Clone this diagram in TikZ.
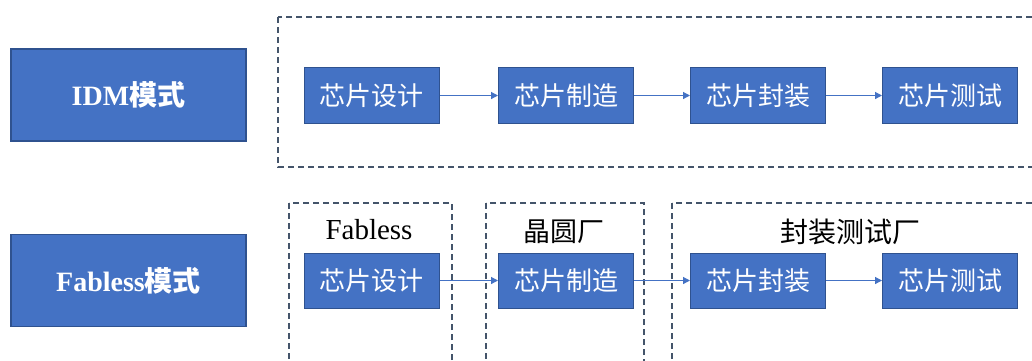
\documentclass[tikz,border=0pt]{standalone}
\usepackage{fontspec}
\setmainfont{Liberation Serif}
\newfontfamily\cjk{Noto Sans CJK SC}
\newfontfamily\cjkb{Noto Sans CJK SC Bold}
\usetikzlibrary{arrows.meta}
\definecolor{boxblue}{HTML}{4472C4}
\definecolor{boxedge}{HTML}{2F528F}
\definecolor{dashc}{HTML}{44546A}
\tikzset{
  stepbox/.style={draw=boxedge, line width=1pt, fill=boxblue, text=white, minimum width=135pt, minimum height=56pt, inner sep=0pt, font=\cjk\fontsize{26}{30}\selectfont},
  modebox/.style={draw=boxedge, line width=1.2pt, fill=boxblue, text=white, minimum width=235pt, minimum height=92pt, inner sep=0pt, font=\fontsize{28}{32}\selectfont\bfseries},
  dashbox/.style={draw=dashc, line width=1.4pt, dash pattern=on 6pt off 4pt},
  flow/.style={draw=boxblue, line width=1.2pt, -{Triangle[length=7pt,width=7pt]}},
  grp/.style={inner sep=0pt, text=black}
}
\begin{document}
\begin{tikzpicture}[x=1pt,y=-1pt]
\useasboundingbox (0,0) rectangle (1032,360);
\clip (0,0) rectangle (1032,360);
\fill[white] (0,0) rectangle (1032,360);
% dashed group frames
\draw[dashbox] (278,17) rectangle (1045,167);
\draw[dashbox] (289,203) rectangle (452,380);
\draw[dashbox] (486,203) rectangle (644,380);
\draw[dashbox] (672,203) rectangle (1045,380);
% mode boxes
\node[modebox] (idm) at (128.5,95) {IDM{\cjkb 模式}};
\node[modebox] (fab) at (128.5,280.5) {Fabless{\cjkb 模式}};
% top row
\node[stepbox] (t1) at (371.5,95.5) {芯片设计};
\node[stepbox] (t2) at (566,95.5) {芯片制造};
\node[stepbox] (t3) at (758,95.5) {芯片封装};
\node[stepbox] (t4) at (950,95.5) {芯片测试};
\draw[flow] (t1) -- (t2);
\draw[flow] (t2) -- (t3);
\draw[flow] (t3) -- (t4);
% bottom row
\node[stepbox, minimum height=55pt] (b1) at (371.5,280.5) {芯片设计};
\node[stepbox, minimum height=55pt] (b2) at (566,280.5) {芯片制造};
\node[stepbox, minimum height=55pt] (b3) at (758,280.5) {芯片封装};
\node[stepbox, minimum height=55pt] (b4) at (950,280.5) {芯片测试};
\draw[flow] (b1) -- (b2);
\draw[flow] (b2) -- (b3);
\draw[flow] (b3) -- (b4);
% group labels
\node[grp, font=\fontsize{29}{32}\selectfont] (lfab) at (369,230) {Fabless};
\node[grp, font=\cjk\fontsize{27}{30}\selectfont] (lwaf) at (564,232) {晶圆厂};
\node[grp, font=\cjk\fontsize{28}{30}\selectfont] (losat) at (850,232) {封装测试厂};
\end{tikzpicture}
\end{document}
